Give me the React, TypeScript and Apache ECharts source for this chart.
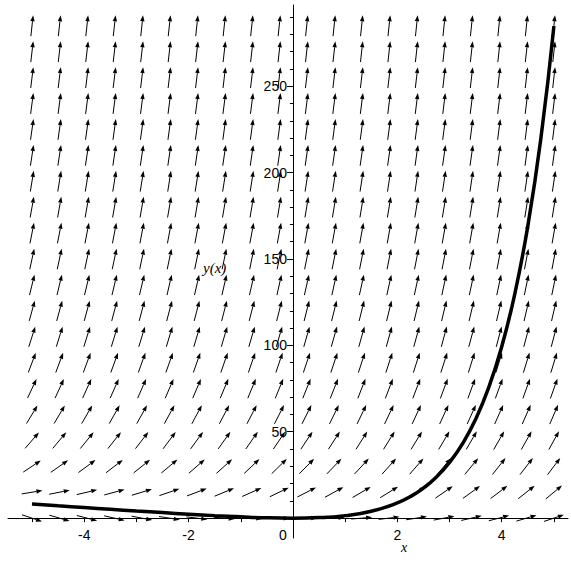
import React, { useEffect, useRef } from "react";
import * as echarts from "echarts";

// Direction-field grid (20 x 20)
const xGrid = [-5, -4.474, -3.947, -3.421, -2.895, -2.368, -1.842, -1.316, -0.789, -0.263,
  0.263, 0.789, 1.316, 1.842, 2.368, 2.895, 3.421, 3.947, 4.474, 5];
const yGrid = [0, 15, 30, 45, 60, 75, 90, 105, 120, 135, 150, 165, 180, 195, 210, 225, 240, 255, 270, 285];

// Solution curve points
const curveX = [-5, -4.5, -4, -3.5, -3, -2.5, -2, -1.5, -1, -0.5, 0, 0.5, 1, 1.5, 2, 2.25, 2.5, 2.75,
  3, 3.25, 3.5, 3.75, 4, 4.25, 4.5, 4.75, 5];
const curveY = [8.2, 7.1, 6.1, 5.1, 4.1, 3.2, 2.3, 1.45, 0.75, 0.2, 0, 0.3, 1.45, 4, 8.8, 12.5, 17.4, 23.8,
  32.2, 43.1, 57.2, 75.5, 99.2, 129.7, 169, 219.7, 284.8];

// Ticks and labels
const xLabelValues = [-4, -2, 2, 4];
const xTickValues = [-5, -4, -3, -2, -1, 1, 2, 3, 4, 5];
const yLabelValues = [50, 100, 150, 200, 250];
const yMinorTickValues = [10, 20, 30, 40, 60, 70, 80, 90, 110, 120, 130, 140, 160, 170, 180, 190,
  210, 220, 230, 240, 260, 270, 280, 290];

// Field slope as read from the arrows: dy/dx = y + 2x
const slope = (x: number, y: number) => y + 2 * x;

const X_MIN = -5.46, X_MAX = 5.27, Y_MIN = -11.5, Y_MAX = 297;
const G_LEFT = 8, G_RIGHT = 3, G_TOP = 5, G_BOTTOM = 29, W = 571, H = 567;

export default function App() {
  const ref = useRef<HTMLDivElement>(null);
  useEffect(() => {
    if (!ref.current) return;
    const chart = echarts.init(ref.current, null, { renderer: "svg" });
    const fieldData: number[][] = [];
    xGrid.forEach((x) => yGrid.forEach((y) => fieldData.push([x, y])));
    const curveData = curveX.map((x, i) => [x, curveY[i]]);
    const labelFont = { fontFamily: "Liberation Sans", fontSize: 14, color: "#000" };
    // place axes through the origin
    const gw = W - G_LEFT - G_RIGHT, gh = H - G_TOP - G_BOTTOM;
    const yAxisOffset = -((0 - X_MIN) / (X_MAX - X_MIN)) * gw;
    const xAxisOffset = -((0 - Y_MIN) / (Y_MAX - Y_MIN)) * gh;
    chart.setOption({
      animation: false,
      backgroundColor: "#fff",
      grid: { left: G_LEFT, right: G_RIGHT, top: G_TOP, bottom: G_BOTTOM, containLabel: false, outerBoundsMode: "none" },
      xAxis: {
        type: "value",
        min: X_MIN,
        max: X_MAX,
        position: "bottom",
        offset: xAxisOffset,
        axisLine: { onZero: false, lineStyle: { color: "#000", width: 1 } },
        axisTick: { show: true, length: 4, customValues: xTickValues, lineStyle: { color: "#000" } },
        axisLabel: { ...labelFont, margin: 10, customValues: xLabelValues },
        splitLine: { show: false },
      },
      yAxis: [
        {
          type: "value",
          min: Y_MIN,
          max: Y_MAX,
          position: "left",
          offset: yAxisOffset,
          axisLine: { onZero: false, lineStyle: { color: "#000", width: 1 } },
          axisTick: { show: true, length: 3, customValues: yMinorTickValues, lineStyle: { color: "#000" } },
          axisLabel: { ...labelFont, margin: 6, customValues: yLabelValues },
          splitLine: { show: false },
        },
        {
          type: "value",
          min: Y_MIN,
          max: Y_MAX,
          position: "left",
          offset: yAxisOffset,
          axisLine: { show: false, onZero: false },
          axisTick: { show: true, length: 6, customValues: yLabelValues, lineStyle: { color: "#000" } },
          axisLabel: { show: false },
          splitLine: { show: false },
        },
      ],
      series: [
        {
          type: "custom",
          clip: false,
          z: 2,
          data: fieldData,
          renderItem: (params: any, api: any) => {
            const x = api.value(0);
            const y = api.value(1);
            const c = api.coord([x, y]);
            const sz = api.size([1, 1]);
            let dx = sz[0];
            let dy = -slope(x, y) * sz[1];
            const len = Math.hypot(dx, dy);
            dx /= len;
            dy /= len;
            const L = 21, HL = 6, HW = 2.2;
            const x1 = c[0] - (dx * L) / 2, y1 = c[1] - (dy * L) / 2;
            const x2 = c[0] + (dx * L) / 2, y2 = c[1] + (dy * L) / 2;
            const nx = -dy, ny = dx;
            const bx = x2 - dx * HL, by = y2 - dy * HL;
            return {
              type: "group",
              children: [
                { type: "line", shape: { x1, y1, x2: bx, y2: by }, style: { stroke: "#000", lineWidth: 1 } },
                {
                  type: "polygon",
                  shape: { points: [[x2, y2], [bx + nx * HW, by + ny * HW], [bx - nx * HW, by - ny * HW]] },
                  style: { fill: "#000" },
                },
              ],
            };
          },
        },
        {
          type: "line",
          z: 3,
          data: curveData,
          smooth: true,
          showSymbol: false,
          symbol: "none",
          lineStyle: { color: "#000", width: 3.5 },
        },
      ],
      graphic: [
        { type: "text", x: 279, y: 528, style: { text: "0", font: "14px 'Liberation Sans'", fill: "#000" } },
        { type: "text", x: 401, y: 540, style: { text: "x", font: "italic 14px 'Liberation Serif'", fill: "#000" } },
        { type: "text", x: 203, y: 260, style: { text: "y(x)", font: "italic 15px 'Liberation Serif'", fill: "#000" } },
      ],
    });
    return () => chart.dispose();
  }, []);
  return <div ref={ref} style={{ position: "fixed", left: 0, top: 0, width: W, height: H }} />;
}
